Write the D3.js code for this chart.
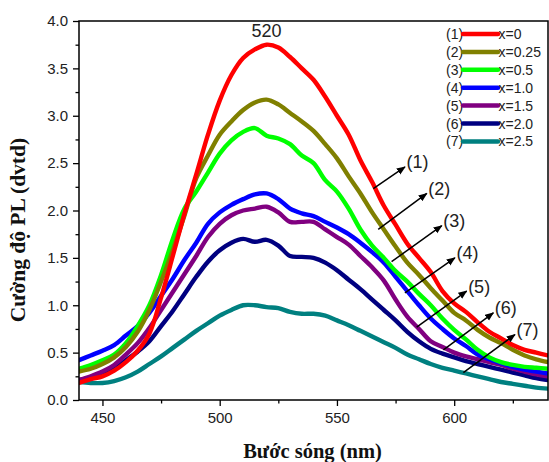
<!DOCTYPE html>
<html>
<head>
<meta charset="utf-8">
<script src="https://cdn.jsdelivr.net/npm/d3@7"></script>
<style>
  html, body { margin: 0; padding: 0; background: #fff; }
  svg { display: block; }
</style>
</head>
<body>
<svg id="chart" width="549" height="462"></svg>
<script>
// Wavelength grid (nm), 5 nm steps
const wavelengths = d3.range(440, 641, 5);

// PL intensity (a.u.) for each composition
const s1 = [0.18,0.22,0.25,0.31,0.40,0.52,0.70,1.08,1.52,1.97,2.38,2.80,3.16,3.43,3.61,3.70,3.75,3.72,3.62,3.50,3.38,3.20,3.00,2.80,2.53,2.30,2.05,1.85,1.65,1.50,1.35,1.15,1.02,0.93,0.82,0.72,0.65,0.58,0.53,0.50,0.47];
const s2 = [0.30,0.33,0.38,0.45,0.56,0.72,0.95,1.25,1.58,1.95,2.34,2.58,2.80,2.94,3.06,3.14,3.17,3.12,3.03,2.94,2.84,2.70,2.55,2.36,2.18,1.98,1.80,1.62,1.45,1.32,1.18,1.05,0.92,0.84,0.74,0.66,0.60,0.53,0.47,0.43,0.40];
const s3 = [0.33,0.37,0.42,0.48,0.60,0.78,1.00,1.32,1.70,2.02,2.20,2.40,2.60,2.74,2.83,2.87,2.79,2.76,2.70,2.58,2.50,2.32,2.20,2.02,1.80,1.63,1.50,1.36,1.25,1.12,1.00,0.86,0.74,0.64,0.53,0.45,0.40,0.37,0.35,0.34,0.33];
const s4 = [0.42,0.47,0.52,0.58,0.68,0.78,0.92,1.10,1.28,1.48,1.66,1.86,1.98,2.06,2.12,2.17,2.18,2.12,2.02,1.97,1.94,1.88,1.82,1.75,1.66,1.56,1.45,1.30,1.15,1.00,0.86,0.75,0.65,0.57,0.48,0.43,0.39,0.35,0.32,0.30,0.28];
const s5 = [0.21,0.25,0.30,0.37,0.48,0.60,0.76,0.95,1.14,1.33,1.52,1.72,1.86,1.95,2.00,2.02,2.04,1.98,1.88,1.88,1.88,1.80,1.72,1.64,1.52,1.40,1.26,1.06,0.88,0.75,0.62,0.56,0.50,0.46,0.43,0.40,0.37,0.33,0.30,0.27,0.25];
const s6 = [0.21,0.24,0.28,0.33,0.42,0.51,0.62,0.78,0.94,1.12,1.30,1.46,1.58,1.66,1.70,1.67,1.69,1.63,1.52,1.51,1.50,1.45,1.37,1.27,1.17,1.06,0.95,0.84,0.72,0.62,0.54,0.49,0.45,0.41,0.38,0.35,0.32,0.29,0.26,0.23,0.21];
const s7 = [0.19,0.18,0.18,0.20,0.24,0.30,0.38,0.46,0.55,0.64,0.73,0.81,0.89,0.95,1.00,1.00,0.98,0.97,0.93,0.91,0.91,0.89,0.84,0.79,0.73,0.67,0.61,0.55,0.48,0.43,0.38,0.34,0.31,0.28,0.25,0.22,0.19,0.17,0.15,0.13,0.12];

const seriesValues = [s1, s2, s3, s4, s5, s6, s7];
const seriesTags = ["(1)", "(2)", "(3)", "(4)", "(5)", "(6)", "(7)"];
const seriesNames = ["x=0", "x=0.25", "x=0.5", "x=1.0", "x=1.5", "x=2.0", "x=2.5"];
const seriesColors = ["#ff0000", "#808000", "#00ff00", "#0000ff", "#800080", "#000080", "#008080"];

// Callout arrows: [start wavelength, start value, end wavelength, end value]
const calloutStart = [[565.5, 2.23], [567.6, 1.80], [573.3, 1.46], [579.0, 1.13], [584.0, 0.77], [595.4, 0.53], [603.9, 0.29]];
const calloutEnd = [[579.0, 2.46], [588.3, 2.18], [594.7, 1.84], [600.3, 1.50], [605.3, 1.15], [616.7, 0.92], [625.9, 0.69]];

// Peak annotation
const peakWavelength = 520;
const peakValue = 3.75;

const xTicks = [450, 500, 550, 600];
const yTicks = [0, 0.5, 1.0, 1.5, 2.0, 2.5, 3.0, 3.5, 4.0];

const W = 549, H = 462;
const margin = { top: 21, right: 1, bottom: 62, left: 79 };
const innerW = W - margin.left - margin.right;
const innerH = H - margin.top - margin.bottom;

const svg = d3.select("#chart");
const g = svg.append("g").attr("transform", `translate(${margin.left},${margin.top})`);

const x = d3.scaleLinear().domain([440, 640]).range([0, innerW]);
const y = d3.scaleLinear().domain([0, 4]).range([innerH, 0]);

svg.append("defs").append("clipPath").attr("id", "plotClip")
  .append("rect").attr("x", 0).attr("y", 0).attr("width", innerW).attr("height", innerH);

svg.select("defs").append("marker")
  .attr("id", "arrowHead")
  .attr("viewBox", "0 0 10 10")
  .attr("refX", 9).attr("refY", 5)
  .attr("markerWidth", 6).attr("markerHeight", 6)
  .attr("markerUnits", "strokeWidth")
  .attr("orient", "auto")
  .append("path").attr("d", "M0,1 L10,5 L0,9 Z").attr("fill", "#000");

// Spectra
const line = d3.line()
  .x((d, i) => x(wavelengths[i]))
  .y(d => y(d))
  .curve(d3.curveCatmullRom.alpha(0.5));

const plot = g.append("g").attr("clip-path", "url(#plotClip)");
// draw from (7) up to (1) so higher curves sit on top
seriesValues.slice().reverse().forEach((vals, k) => {
  const idx = seriesValues.length - 1 - k;
  plot.append("path")
    .datum(vals)
    .attr("d", line)
    .attr("fill", "none")
    .attr("stroke", seriesColors[idx])
    .attr("stroke-width", 4.4)
    .attr("stroke-linejoin", "round")
    .attr("stroke-linecap", "round");
});

// Axes
const tickFont = "Liberation Sans, Arial, sans-serif";

const xAxis = g.append("g").attr("transform", `translate(0,${innerH})`)
  .call(d3.axisBottom(x).tickValues(xTicks).tickSize(6).tickPadding(6).tickFormat(d3.format("d")));
const xMinor = g.append("g").attr("transform", `translate(0,${innerH})`)
  .call(d3.axisBottom(x).tickValues([475, 525, 575, 625]).tickSize(3.5).tickFormat(""));

const yAxis = g.append("g")
  .call(d3.axisLeft(y).tickValues(yTicks).tickSize(6).tickPadding(5).tickFormat(d3.format(".1f")));
const yMinor = g.append("g")
  .call(d3.axisLeft(y).tickValues([0.25, 0.75, 1.25, 1.75, 2.25, 2.75, 3.25, 3.75]).tickSize(3.5).tickFormat(""));

[xAxis, xMinor, yAxis, yMinor].forEach(a => {
  a.select(".domain").remove();
  a.selectAll(".tick line").attr("stroke", "#000").attr("stroke-width", 1.3);
  a.selectAll(".tick text")
    .attr("font-family", tickFont)
    .attr("font-size", 15)
    .attr("fill", "#222");
});

// Frame
g.append("rect")
  .attr("x", 0).attr("y", 0).attr("width", innerW).attr("height", innerH)
  .attr("fill", "none").attr("stroke", "#000").attr("stroke-width", 1.5);

// Axis titles
svg.append("text")
  .attr("x", 312.5).attr("y", 458)
  .attr("text-anchor", "middle")
  .attr("font-family", "Liberation Serif, Times New Roman, serif")
  .attr("font-weight", "bold").attr("font-size", 20.5)
  .attr("fill", "#111")
  .text("Bước sóng (nm)");

svg.append("text")
  .attr("transform", `translate(25,${230}) rotate(-90)`)
  .attr("text-anchor", "middle")
  .attr("font-family", "Liberation Serif, Times New Roman, serif")
  .attr("font-weight", "bold").attr("font-size", 21.5)
  .attr("fill", "#111")
  .text("Cường độ PL (dvtd)");

// Peak label
g.append("text")
  .attr("x", x(peakWavelength)).attr("y", y(peakValue) - 8)
  .attr("text-anchor", "middle")
  .attr("font-family", tickFont).attr("font-size", 18)
  .attr("fill", "#222")
  .text(String(peakWavelength));

// Callout arrows with series tags
calloutStart.forEach((s, i) => {
  const e = calloutEnd[i];
  g.append("line")
    .attr("x1", x(s[0])).attr("y1", y(s[1]))
    .attr("x2", x(e[0])).attr("y2", y(e[1]))
    .attr("stroke", "#000").attr("stroke-width", 1.5)
    .attr("marker-end", "url(#arrowHead)");
  g.append("text")
    .attr("x", x(e[0]) + 1.5).attr("y", y(e[1]) + 1.5)
    .attr("font-family", tickFont).attr("font-size", 18)
    .attr("fill", "#222")
    .text(seriesTags[i]);
});

// Legend
const legend = svg.append("g").attr("transform", "translate(446,34)");
seriesNames.forEach((name, i) => {
  const row = legend.append("g").attr("transform", `translate(0,${i * 17.9})`);
  row.append("text")
    .attr("x", 0).attr("y", 5)
    .attr("font-family", tickFont).attr("font-size", 14)
    .attr("fill", "#222")
    .text(seriesTags[i]);
  row.append("line")
    .attr("x1", 17).attr("x2", 52).attr("y1", 0).attr("y2", 0)
    .attr("stroke", seriesColors[i]).attr("stroke-width", 4.5)
    .attr("stroke-linecap", "round");
  row.append("text")
    .attr("x", 52.5).attr("y", 5)
    .attr("font-family", tickFont).attr("font-size", 14)
    .attr("fill", "#222")
    .text(name);
});
</script>
</body>
</html>
